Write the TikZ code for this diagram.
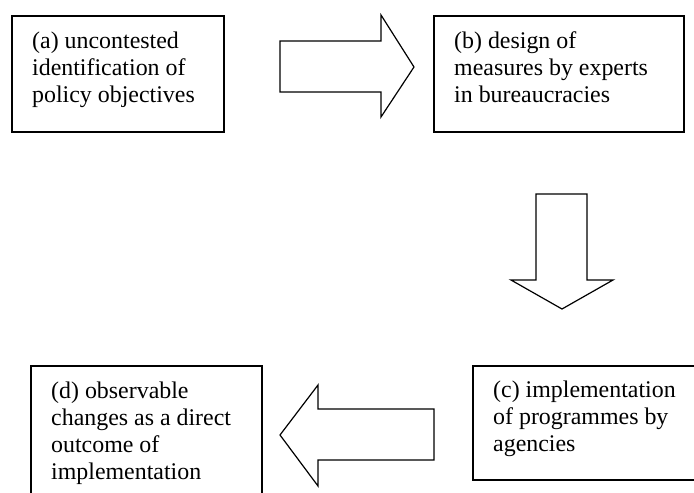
\documentclass[tikz,border=0pt]{standalone}
\usepackage{fontspec}
\setmainfont{Liberation Serif}
\usetikzlibrary{calc}
\begin{document}
\begin{tikzpicture}[x=1pt,y=-1pt,
  box/.style={draw,line width=1.8pt,rectangle,inner sep=0pt,anchor=north west},
  txt/.style={anchor=base west,inner sep=0pt,align=left,font=\fontsize{23.9}{27.3}\selectfont},
  blockarrow/.style={draw,line width=1.2pt,fill=white,line join=miter}]
\useasboundingbox (0,0) rectangle (694,493);
\clip (0,0) rectangle (694,493);
% boxes
\node[box,minimum width=212pt,minimum height=116pt] (a) at (11,15) {};
\node[box,minimum width=250pt,minimum height=116pt] (b) at (433,15) {};
\node[box,minimum width=240pt,minimum height=114pt] (c) at (472,365) {};
\node[box,minimum width=231pt,minimum height=140pt] (d) at (30,365) {};
% texts (base anchor = baseline of the last line)
\node[txt] (ta) at (32,102.6) {(a) uncontested\\identification of\\policy objectives};
\node[txt] (tb) at (454,102.6) {(b) design of\\measures by experts\\in bureaucracies};
\node[txt] (tc) at (493,451.6) {(c) implementation\\of programmes by\\agencies};
\node[txt] (td) at (51,479.9) {(d) observable\\changes as a direct\\outcome of\\implementation};
% block arrows
\draw[blockarrow] (280,41) -- (381,41) -- (381,15) -- (414,67) -- (381,117) -- (381,92) -- (280,92) -- cycle;
\draw[blockarrow] (536,194) -- (587,194) -- (587,280) -- (613,280) -- (562,309) -- (511,280) -- (536,280) -- cycle;
\draw[blockarrow] (434,409) -- (318,409) -- (318,385) -- (280,435) -- (318,486) -- (318,460) -- (434,460) -- cycle;
\end{tikzpicture}
\end{document}
